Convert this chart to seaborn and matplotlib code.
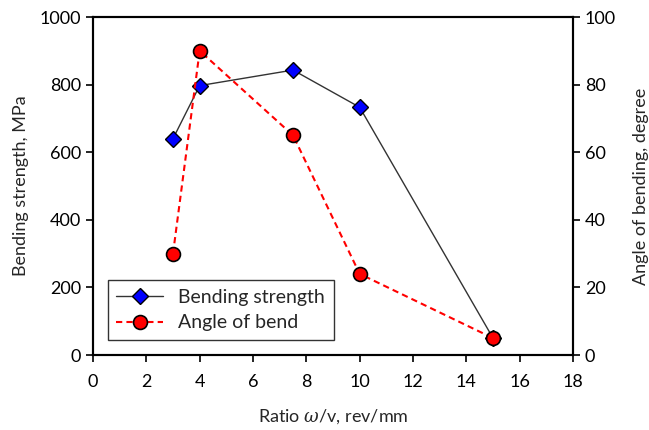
import matplotlib
matplotlib.use("Agg")
import matplotlib.pyplot as plt
import seaborn as sns
import pandas as pd

ratio = [3, 4, 7.5, 10, 15]
bending_strength = [640, 797, 843, 733, 50]
angle_of_bend = [30, 90, 65, 24, 5]

sns.set_theme(style="white")
plt.rcParams['font.family'] = ['Lato', 'DejaVu Sans']
plt.rcParams['mathtext.fontset'] = 'custom'
plt.rcParams['mathtext.it'] = 'DejaVu Serif:italic'

df = pd.DataFrame({"ratio": ratio, "bs": bending_strength, "ang": angle_of_bend})

fig = plt.figure(figsize=(6.49, 4.30), dpi=100)
ax = fig.add_axes([93/649, 1-355/430, 480/649, 338/430])
ax2 = ax.twinx()

sns.lineplot(data=df, x="ratio", y="bs", ax=ax, color="#333333", lw=1,
             marker="D", markersize=8, markerfacecolor="#0000ff",
             markeredgecolor="black", markeredgewidth=1, label="Bending strength", legend=False)
sns.lineplot(data=df, x="ratio", y="ang", ax=ax2, color="#ff0000", lw=1.5,
             linestyle=(0, (3, 2)), marker="o", markersize=10, markerfacecolor="#ff0000",
             markeredgecolor="black", markeredgewidth=1.2, label="Angle of bend", legend=False)

ax.set_xlim(0, 18)
ax.set_ylim(0, 1000)
ax2.set_ylim(0, 100)
ax.set_xticks(range(0, 19, 2))
ax.set_yticks(range(0, 1001, 200))
ax2.set_yticks(range(0, 101, 20))

for a in (ax, ax2):
    for s in a.spines.values():
        s.set_color("black")
        s.set_linewidth(1.5)
ax.tick_params(axis="both", direction="out", length=5, width=1.2, colors="black",
               labelsize=13, left=True, bottom=True)
ax2.tick_params(axis="y", direction="out", length=5, width=1.2, colors="black",
                labelsize=13, right=True)
ax.tick_params(axis="x", pad=9)

ax.set_xlabel(r"Ratio $\omega$/v, rev/mm", fontsize=13, labelpad=12)
ax.set_ylabel("Bending strength, MPa", fontsize=13, labelpad=8)
ax2.set_ylabel("Angle of bending, degree", fontsize=13, labelpad=12)

h1, l1 = ax.get_legend_handles_labels()
h2, l2 = ax2.get_legend_handles_labels()
leg = ax2.legend(h1 + h2, l1 + l2, loc="lower left", bbox_to_anchor=(0.01, 0.015),
                 fontsize=14, frameon=True, fancybox=False, edgecolor="black",
                 borderpad=0.45, handlelength=2.4, handletextpad=0.8, labelspacing=0.45)
leg.get_frame().set_linewidth(1)

fig.savefig("out.png", dpi=100)
